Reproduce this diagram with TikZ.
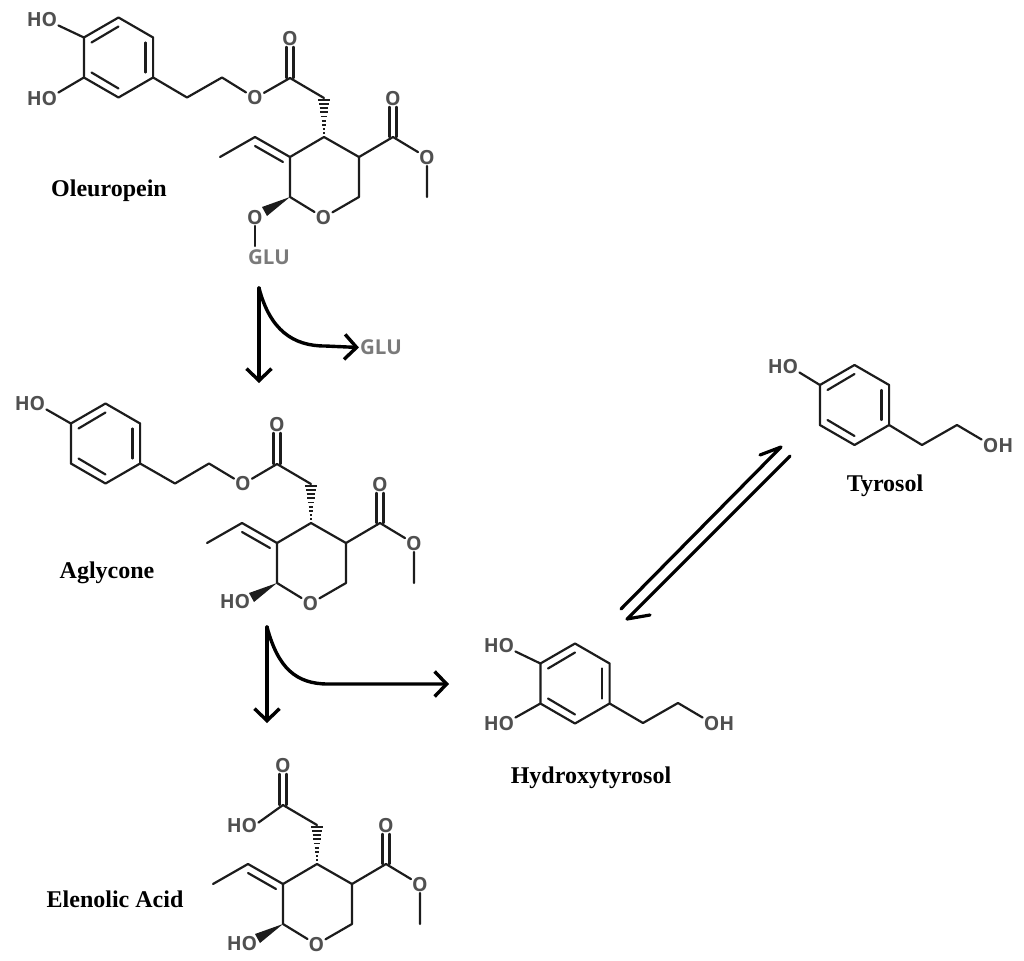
\documentclass[tikz,border=0pt]{standalone}
\usepackage{fontspec}
\usetikzlibrary{arrows.meta,calc}
\setmainfont{Liberation Serif}
\newfontfamily\atomfont{Open Sans}
\definecolor{bondgray}{HTML}{1C1C1C}
\definecolor{atomgray}{HTML}{505050}
\definecolor{glugray}{HTML}{7A7A7A}
\tikzset{
  bond/.style={line width=2.2pt,draw=bondgray,line cap=round,line join=round},
  atom/.style={font=\atomfont\bfseries\fontsize{19.5}{19.5}\selectfont,text=atomgray,inner sep=1pt},
  glu/.style={font=\atomfont\bfseries\fontsize{20.5}{20.5}\selectfont,text=glugray,inner sep=1pt},
  compound/.style={font=\bfseries\fontsize{24}{24}\selectfont,text=black},
  reaction/.style={line width=3.4pt,draw=black,line cap=round,line join=round,-{Straight Barb[length=12pt,width=25pt,line width=3.4pt]}},
  eqline/.style={line width=3.2pt,draw=black,line cap=round,line join=round}
}
% benzene ring around (0,0)
\newcommand{\benzring}{
\coordinate (top) at (0,-40);
\coordinate (ur) at (34.6,-20);
\coordinate (lr) at (34.6,20);
\coordinate (bot) at (0,40);
\coordinate (ll) at (-34.6,20);
\coordinate (ul) at (-34.6,-20);
\draw[bond] (top) -- (ur) -- (lr) -- (bot) -- (ll) -- (ul) -- cycle;
\draw[bond] (-27,-15) -- (0,-31);
\draw[bond] (27,-15) -- (27,15);
\draw[bond] (-27,15) -- (0,31);
}
% pyran ring with its side groups, given at the place it has in oleuropein
\newcommand{\pyranring}{
\coordinate (acid) at (290,78);
\coordinate (ch2) at (324,98);
\coordinate (c4) at (324,137);
\coordinate (c3) at (290,157);
\coordinate (c2) at (290,197);
\coordinate (c6) at (359,197);
\coordinate (c5) at (359,157);
\coordinate (vinyl) at (255,137);
\coordinate (methyl) at (220,157);
\coordinate (ester) at (393,137);
\coordinate (ome) at (427,197);
\node[atom] (acidO) at (290,38.5) {O};
\node[atom] (ringO) at (323.5,217.5) {O};
\node[atom] (esterO) at (393,98.5) {O};
\node[atom] (meO) at (427,157.5) {O};
\draw[bond] (acid) -- (ch2);
\draw[bond] ([xshift=-3.5]acid) -- ([xshift=-3.5]acidO.south);
\draw[bond] ([xshift=3.5]acid) -- ([xshift=3.5]acidO.south);
\draw[bond] (c2) -- (c3) -- (c4) -- (c5) -- (c6) -- (ringO) -- (c2);
\draw[bond] (c3) -- (vinyl) -- (methyl);
\draw[bond] (255,146) -- (283,162);
\draw[bond] (c5) -- (ester) -- (meO) -- (ome);
\draw[bond] ([xshift=-3.5]ester) -- ([xshift=-3.5]esterO.south);
\draw[bond] ([xshift=3.5]ester) -- ([xshift=3.5]esterO.south);
\fill[bondgray] (c2) -- (262,207) -- (267,216) -- cycle;
\foreach \k in {1,...,9} {
  \path ($(c4)!\k/9.5!(ch2)$) coordinate (hk);
  \draw[bondgray,line width=1.9pt] ([xshift=-\k*0.62]hk) -- ([xshift=\k*0.62]hk);
}
}
\begin{document}
\begin{tikzpicture}[x=1pt,y=-1pt]
\useasboundingbox (0,0) rectangle (1024,960);

% Oleuropein
\begin{scope}[shift={(118.5,57.5)},name prefix=ole-]
\benzring
\end{scope}
\begin{scope}[name prefix=ole-]
\pyranring
\node[atom] (ho1) at (42,19.5) {HO};
\node[atom] (ho2) at (42,98.5) {HO};
\node[atom] (linkO) at (255,98) {O};
\node[atom] (sugarO) at (255,217.5) {O};
\node[glu] (sugar) at (269,257.5) {GLU};
\coordinate (ch2a) at (187,97.5);
\coordinate (ch2b) at (222,77.5);
\draw[bond] (ul) -- (ho1.-20);
\draw[bond] (ll) -- (ho2.20);
\draw[bond] (lr) -- (ch2a) -- (ch2b) -- (linkO) -- (acid);
\draw[bond] (sugarO) -- (255,246);
\end{scope}
\node[compound] (oleuropein) at (109,191) {Oleuropein};

% Aglycone
\begin{scope}[shift={(105.5,443.5)},name prefix=agl-]
\benzring
\end{scope}
\begin{scope}[shift={(-13,386)},name prefix=agl-]
\pyranring
\node[atom] (ho1) at (43,17.5) {HO};
\node[atom] (linkO) at (256,98) {O};
\node[atom] (ho3) at (248,215.5) {HO};
\coordinate (ch2a) at (188,97.5);
\coordinate (ch2b) at (222,77.5);
\draw[bond] (ul) -- (ho1.-20);
\draw[bond] (lr) -- (ch2a) -- (ch2b) -- (linkO) -- (acid);
\end{scope}
\node[compound] (aglycone) at (107,573) {Aglycone};

% Elenolic acid
\begin{scope}[shift={(-7,727)},name prefix=ele-]
\pyranring
\node[atom] (ho4) at (249,98.5) {HO};
\node[atom] (ho3) at (249,216.5) {HO};
\draw[bond] (acid) -- (ho4.10);
\end{scope}
\node[compound] (elenolic) at (115,899) {Elenolic Acid};

% Hydroxytyrosol
\begin{scope}[shift={(575,683.5)},name prefix=hyd-]
\benzring
\end{scope}
\node[atom] (hydho1) at (499,645.5) {HO};
\node[atom] (hydho2) at (499,723.5) {HO};
\node[atom] (hydoh) at (719,723.5) {OH};
\coordinate (hyda) at (643,723);
\coordinate (hydb) at (678,703);
\draw[bond] (hyd-ul) -- (hydho1.-20);
\draw[bond] (hyd-ll) -- (hydho2.20);
\draw[bond] (hyd-lr) -- (hyda) -- (hydb) -- (hydoh.160);
\node[compound] (hydroxy) at (591,778) {Hydroxytyrosol};

% Tyrosol
\begin{scope}[shift={(854.5,405)},name prefix=tyr-]
\benzring
\end{scope}
\node[atom] (tyrho) at (783,366.5) {HO};
\node[atom] (tyroh) at (998,445.5) {OH};
\coordinate (tyra) at (922,445);
\coordinate (tyrb) at (957,425);
\draw[bond] (tyr-ul) -- (tyrho.-20);
\draw[bond] (tyr-lr) -- (tyra) -- (tyrb) -- (tyroh.160);
\node[compound] (tyrosol) at (885,486) {Tyrosol};

% Arrows
\coordinate (s1) at (259,288);
\coordinate (e1) at (259,383);
\node[glu] (gluout) at (381,347.5) {GLU};
\draw[reaction] (s1) -- (e1);
\draw[reaction] (s1) .. controls (270,330) and (293,346) .. (325,346) -- (gluout.west);
\coordinate (s2) at (267,627);
\coordinate (e2) at (267,723);
\coordinate (e3) at (449,684);
\draw[reaction] (s2) -- (e2);
\draw[reaction] (s2) .. controls (278,668) and (296,684) .. (328,684) -- (e3);

% Equilibrium
\coordinate (up1) at (621,609);
\coordinate (up2) at (781,447);
\coordinate (upbarb) at (760,455);
\coordinate (dn1) at (790,456);
\coordinate (dn2) at (627,619);
\coordinate (dnbarb) at (650,615);
\draw[eqline] (up1) -- (up2) -- (upbarb);
\draw[eqline] (dn1) -- (dn2) -- (dnbarb);
\end{tikzpicture}
\end{document}
